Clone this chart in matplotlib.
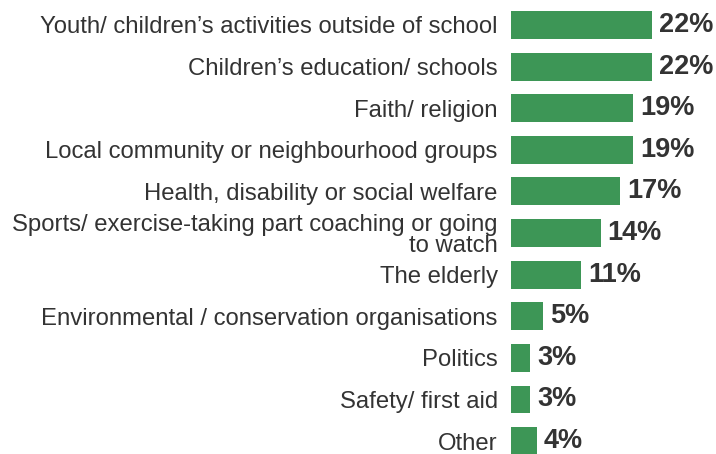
import matplotlib.pyplot as plt

categories = [
    "Youth/ children\u2019s activities outside of school",
    "Children\u2019s education/ schools",
    "Faith/ religion",
    "Local community or neighbourhood groups",
    "Health, disability or social welfare",
    "Sports/ exercise-taking part coaching or going\nto watch",
    "The elderly",
    "Environmental / conservation organisations",
    "Politics",
    "Safety/ first aid",
    "Other",
]
values = [22, 22, 19, 19, 17, 14, 11, 5, 3, 3, 4]

plt.rcParams['font.family'] = ['Liberation Sans', 'DejaVu Sans']

fig = plt.figure(figsize=(7.16, 4.54), dpi=100)
ax = fig.add_axes([511 / 716, 0, 205 / 716, 1])

y = list(range(len(values)))
ax.barh(y, values, height=0.67, color='#3d9656')

for yi, v in zip(y, values):
    ax.text(v + 1.1, yi, f'{v}%', va='center', ha='left',
            fontsize=19.5, fontweight='bold', color='#333333')

ax.set_xlim(0, 32)
ax.set_ylim(10.31, -0.6)
ax.set_yticks(y)
ax.set_yticklabels(categories, fontsize=17.2, color='#333333',
                   linespacing=0.95)
ax.tick_params(axis='y', length=0, pad=9.5)
ax.set_xticks([])
for s in ax.spines.values():
    s.set_visible(False)

plt.savefig('out.png', dpi=100)
